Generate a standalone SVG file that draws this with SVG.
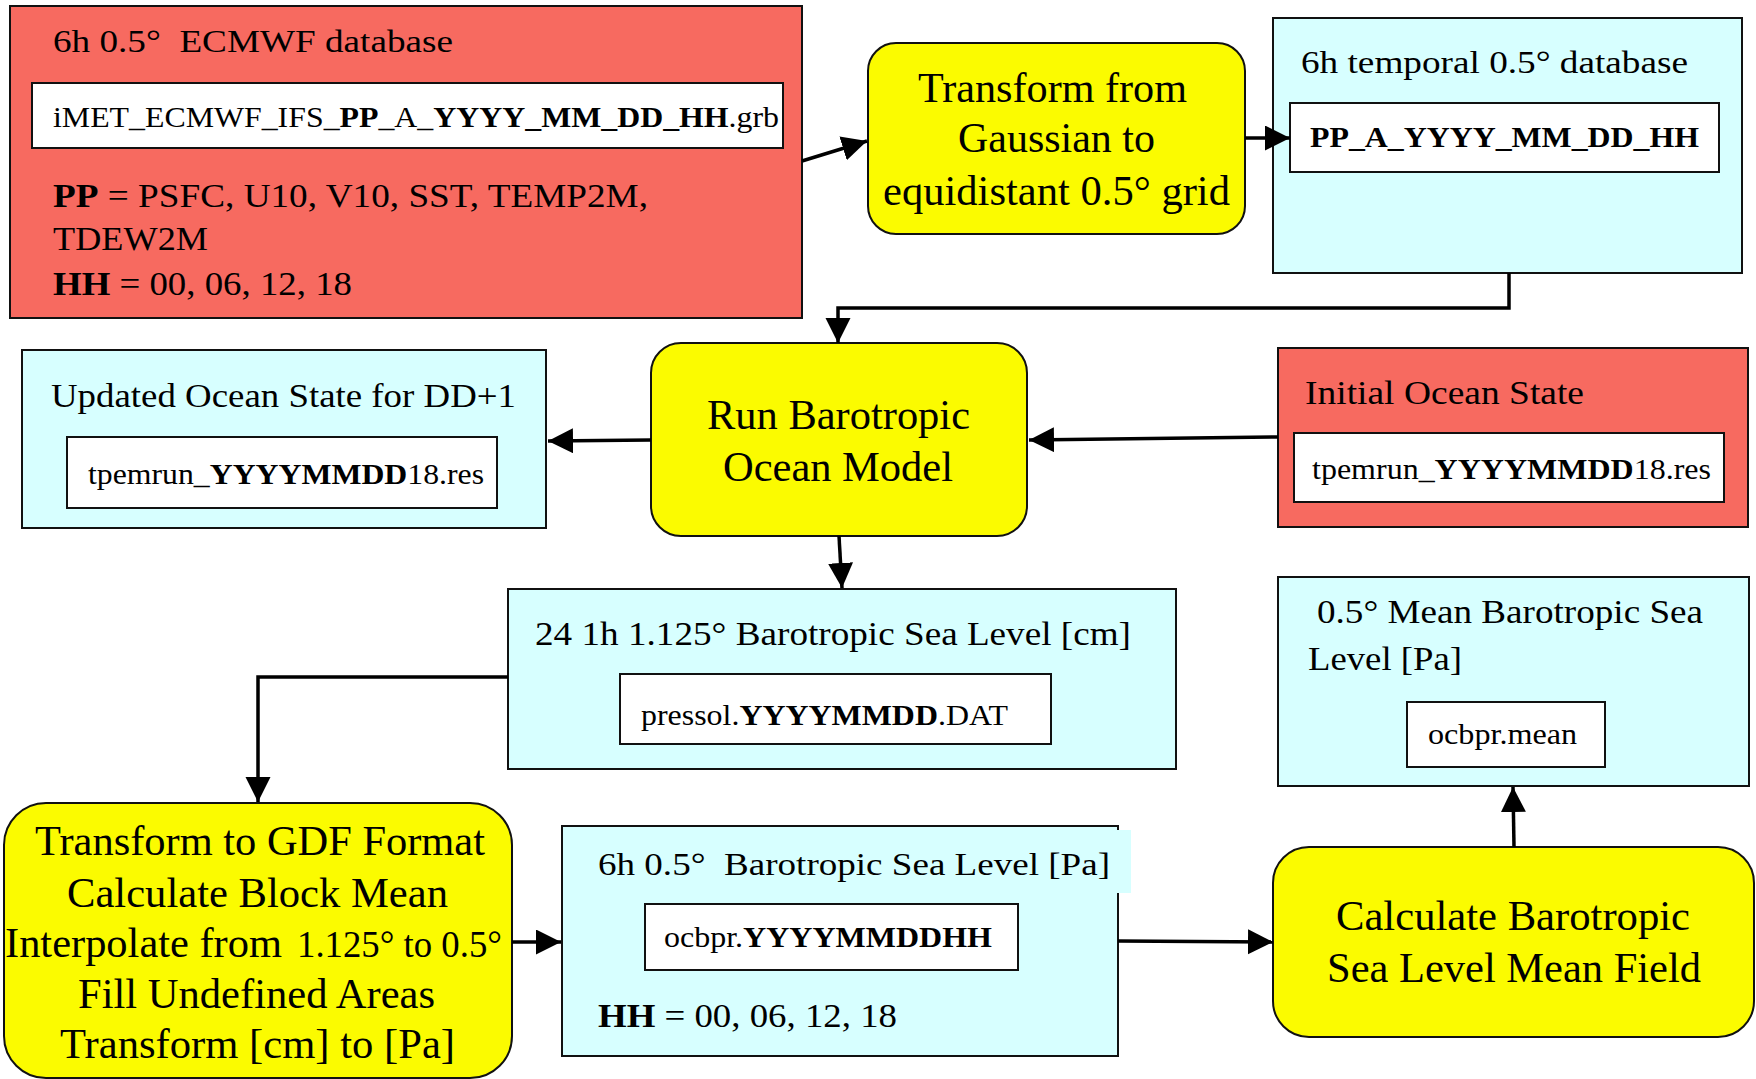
<svg xmlns="http://www.w3.org/2000/svg" width="1756" height="1079" viewBox="0 0 1756 1079">
<style>
.red{fill:#F76A60;stroke:#111;stroke-width:2}
.cyan{fill:#D7FFFF;stroke:#111;stroke-width:2}
.yel{fill:#FBFB00;stroke:#111;stroke-width:2}
.wht{fill:#FFFFFF;stroke:#111;stroke-width:2}
text{font-family:"Liberation Serif","Times New Roman",serif;fill:#000;white-space:pre}
.t34{font-size:34px}
.t31{font-size:31px}
.t30{font-size:30px}
.t42{font-size:42px}
.b{font-weight:bold}
.conn{fill:none;stroke:#000;stroke-width:3.5;marker-end:url(#ah)}
</style>
<defs>
<marker id="ah" markerUnits="userSpaceOnUse" markerWidth="26" markerHeight="26" refX="25" refY="12.5" orient="auto">
<path d="M0,0 L25,12.5 L0,25 Z" fill="#000"/>
</marker>
</defs>
<rect width="1756" height="1079" fill="#fff"/>

<g id="ecmwf-db">
<rect class="red" x="10" y="6" width="792" height="312"/>
<text class="t31" x="53" y="52" textLength="400" lengthAdjust="spacingAndGlyphs">6h 0.5°  ECMWF database</text>
<rect class="wht" x="32" y="83" width="751" height="65"/>
<text class="t30" x="53" y="127" textLength="726" lengthAdjust="spacingAndGlyphs">iMET_ECMWF_IFS_<tspan class="b">PP</tspan>_A_<tspan class="b">YYYY_MM_DD_HH</tspan>.grb</text>
<text class="t34" x="53" y="207" textLength="595" lengthAdjust="spacingAndGlyphs"><tspan class="b">PP</tspan> = PSFC, U10, V10, SST, TEMP2M,</text>
<text class="t34" x="53" y="250" textLength="155" lengthAdjust="spacingAndGlyphs">TDEW2M</text>
<text class="t34" x="53" y="295" textLength="299" lengthAdjust="spacingAndGlyphs"><tspan class="b">HH</tspan> = 00, 06, 12, 18</text>
</g>

<g id="transform-gaussian">
<rect class="yel" x="868" y="43" width="377" height="191" rx="28" ry="28"/>
<text class="t42" x="918" y="102" textLength="269" lengthAdjust="spacingAndGlyphs">Transform from</text>
<text class="t42" x="958" y="152" textLength="197" lengthAdjust="spacingAndGlyphs">Gaussian to</text>
<text class="t42" x="883" y="205" textLength="347" lengthAdjust="spacingAndGlyphs">equidistant 0.5° grid</text>
</g>

<g id="temporal-db">
<rect class="cyan" x="1273" y="18" width="469" height="255"/>
<text class="t31" x="1301" y="73" textLength="387" lengthAdjust="spacingAndGlyphs">6h temporal 0.5° database</text>
<rect class="wht" x="1290" y="103" width="429" height="69"/>
<text class="t30 b" x="1310" y="147" textLength="389" lengthAdjust="spacingAndGlyphs">PP_A_YYYY_MM_DD_HH</text>
</g>

<g id="run-model">
<rect class="yel" x="651" y="343" width="376" height="193" rx="30" ry="30"/>
<text class="t42" x="707" y="429" textLength="263" lengthAdjust="spacingAndGlyphs">Run Barotropic</text>
<text class="t42" x="723" y="481" textLength="230" lengthAdjust="spacingAndGlyphs">Ocean Model</text>
</g>

<g id="updated-state">
<rect class="cyan" x="22" y="350" width="524" height="178"/>
<text class="t34" x="51" y="407" textLength="465" lengthAdjust="spacingAndGlyphs">Updated Ocean State for DD+1</text>
<rect class="wht" x="67" y="437" width="430" height="71"/>
<text class="t30" x="88" y="484" textLength="396" lengthAdjust="spacingAndGlyphs">tpemrun_<tspan class="b">YYYYMMDD</tspan>18.res</text>
</g>

<g id="initial-state">
<rect class="red" x="1278" y="348" width="470" height="179"/>
<text class="t34" x="1305" y="404" textLength="279" lengthAdjust="spacingAndGlyphs">Initial Ocean State</text>
<rect class="wht" x="1294" y="433" width="430" height="69"/>
<text class="t30" x="1312" y="479" textLength="399" lengthAdjust="spacingAndGlyphs">tpemrun_<tspan class="b">YYYYMMDD</tspan>18.res</text>
</g>

<g id="sealevel-cm">
<rect class="cyan" x="508" y="589" width="668" height="180"/>
<text class="t34" x="535" y="645" textLength="596" lengthAdjust="spacingAndGlyphs">24 1h 1.125° Barotropic Sea Level [cm]</text>
<rect class="wht" x="620" y="674" width="431" height="70"/>
<text class="t30" x="641" y="725" textLength="367" lengthAdjust="spacingAndGlyphs">pressol.<tspan class="b">YYYYMMDD</tspan>.DAT</text>
</g>

<g id="mean-sealevel">
<rect class="cyan" x="1278" y="577" width="471" height="209"/>
<text class="t34" x="1317" y="623" textLength="386" lengthAdjust="spacingAndGlyphs">0.5° Mean Barotropic Sea</text>
<text class="t34" x="1308" y="670" textLength="154" lengthAdjust="spacingAndGlyphs">Level [Pa]</text>
<rect class="wht" x="1407" y="702" width="198" height="65"/>
<text class="t30" x="1428" y="744" textLength="149" lengthAdjust="spacingAndGlyphs">ocbpr.mean</text>
</g>

<g id="transform-gdf">
<rect class="yel" x="4" y="803" width="508" height="275" rx="42" ry="42"/>
<text class="t42" x="35" y="855" textLength="450" lengthAdjust="spacingAndGlyphs">Transform to GDF Format</text>
<text class="t42" x="67" y="907" textLength="381" lengthAdjust="spacingAndGlyphs">Calculate Block Mean</text>
<text class="t42" x="5" y="957" textLength="277" lengthAdjust="spacingAndGlyphs">Interpolate from</text>
<text x="297" y="957" style="font-size:37px" textLength="205" lengthAdjust="spacingAndGlyphs">1.125° to 0.5°</text>
<text class="t42" x="78" y="1008" textLength="357" lengthAdjust="spacingAndGlyphs">Fill Undefined Areas</text>
<text class="t42" x="60" y="1058" textLength="395" lengthAdjust="spacingAndGlyphs">Transform [cm] to [Pa]</text>
</g>

<g id="sealevel-pa">
<rect class="cyan" x="562" y="826" width="556" height="230"/>
<rect x="1104" y="830" width="27" height="63" fill="#D7FFFF"/>
<text class="t31" x="598" y="875" textLength="512" lengthAdjust="spacingAndGlyphs">6h 0.5°  Barotropic Sea Level [Pa]</text>
<rect class="wht" x="645" y="904" width="373" height="66"/>
<text class="t30" x="664" y="947" textLength="328" lengthAdjust="spacingAndGlyphs">ocbpr.<tspan class="b">YYYYMMDDHH</tspan></text>
<text class="t34" x="598" y="1027" textLength="299" lengthAdjust="spacingAndGlyphs"><tspan class="b">HH</tspan> = 00, 06, 12, 18</text>
</g>

<g id="calc-mean">
<rect class="yel" x="1273" y="847" width="481" height="190" rx="36" ry="36"/>
<text class="t42" x="1336" y="930" textLength="354" lengthAdjust="spacingAndGlyphs">Calculate Barotropic</text>
<text class="t42" x="1327" y="982" textLength="374" lengthAdjust="spacingAndGlyphs">Sea Level Mean Field</text>
</g>

<g id="connectors">
<path class="conn" d="M802,161 L867,141"/>
<path class="conn" d="M1245,138 L1290,138"/>
<path class="conn" d="M1509,273 V308 H838 V343"/>
<path class="conn" d="M651,440 L548,441"/>
<path class="conn" d="M1278,437 L1029,440"/>
<path class="conn" d="M839,536 L842,588"/>
<path class="conn" d="M508,677 H258 V802"/>
<path class="conn" d="M512,942 L561,942"/>
<path class="conn" d="M1118,941 L1273,942"/>
<path class="conn" d="M1514,847 L1513,787"/>
</g>
</svg>
